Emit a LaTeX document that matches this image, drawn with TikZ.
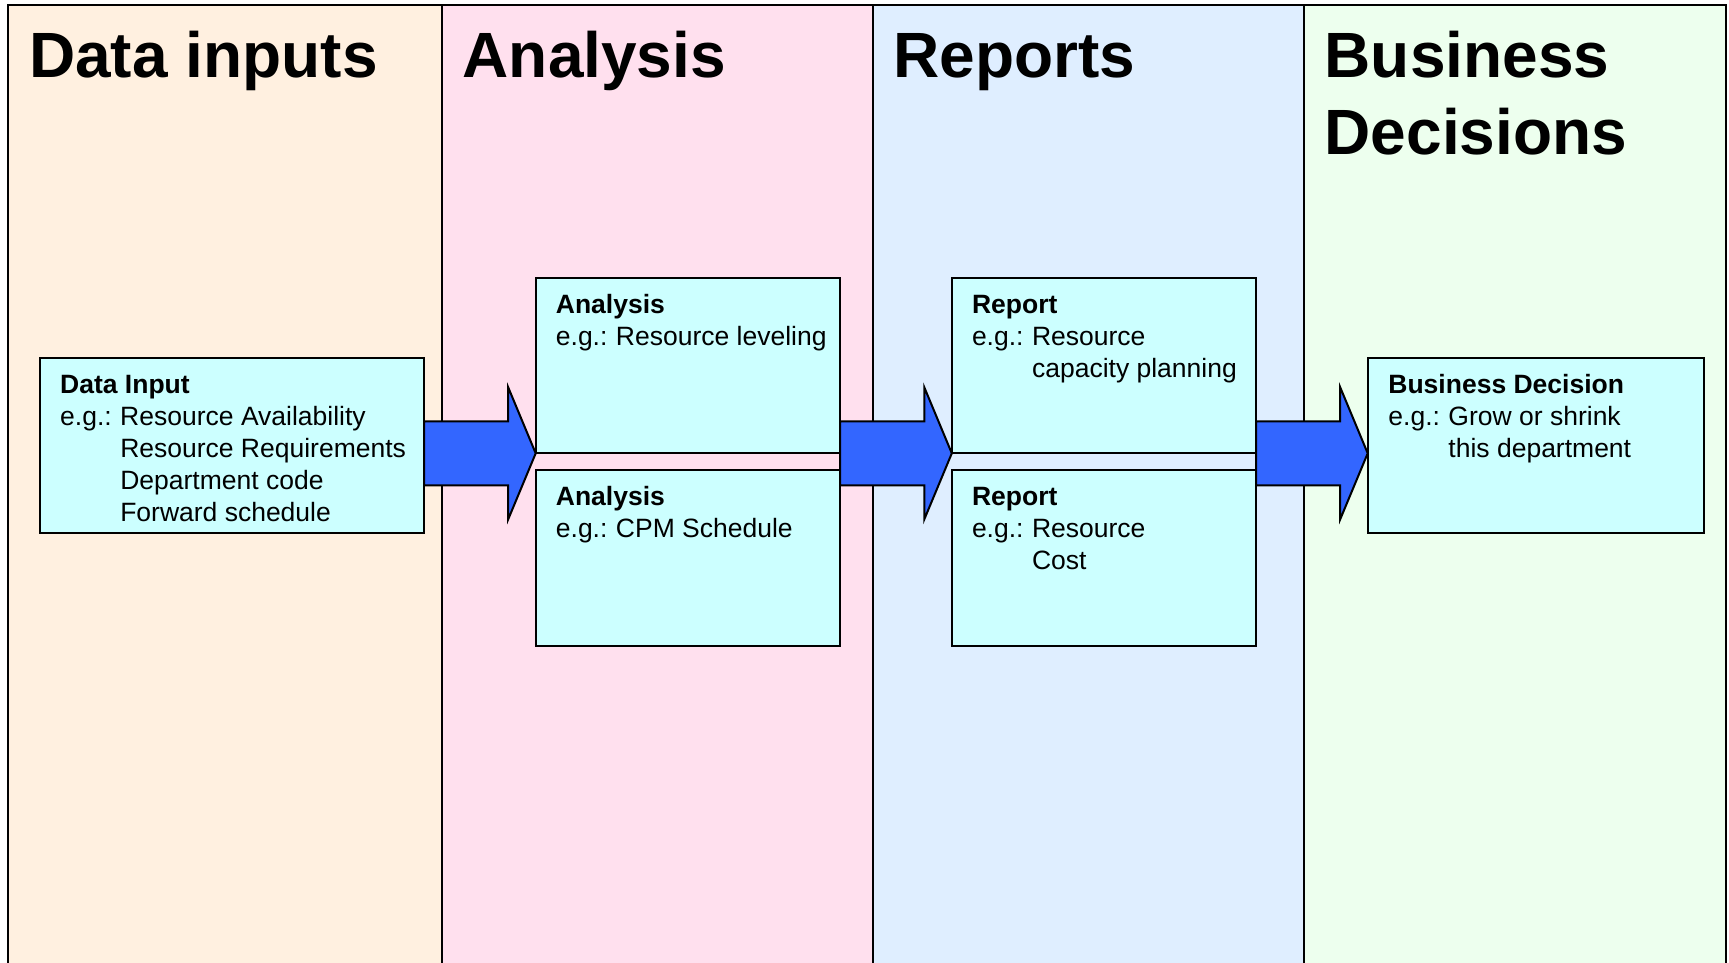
\documentclass[tikz,border=0pt]{standalone}
\usepackage{fontspec}
\setmainfont{Liberation Sans}
\usetikzlibrary{calc}
\definecolor{colA}{HTML}{FFF0E0}
\definecolor{colB}{HTML}{FFE0EE}
\definecolor{colC}{HTML}{DFEEFF}
\definecolor{colD}{HTML}{EDFFEE}
\definecolor{boxcyan}{HTML}{CCFFFF}
\definecolor{arrowblue}{HTML}{3366FF}
\begin{document}
\begin{tikzpicture}[x=1pt,y=-1pt,
  colline/.style={draw=black,line width=2pt},
  coltitle/.style={anchor=base west,inner sep=0pt,font=\fontsize{64}{77}\selectfont\bfseries},
  infobox/.style={draw=black,fill=boxcyan,line width=2pt,rectangle,anchor=north west,inner sep=0pt,outer sep=0pt},
  boxtext/.style={anchor=base west,inner sep=0pt,font=\fontsize{26.5}{32}\selectfont},
  bigarrow/.style={draw=black,fill=arrowblue,line width=2pt,line join=miter}]
\useasboundingbox (0,0) rectangle (1729,963);
\clip (0,0) rectangle (1729,963);
% columns
\fill[colA] (7.5,5) rectangle (441.5,990);
\fill[colB] (441.5,5) rectangle (872.5,990);
\fill[colC] (872.5,5) rectangle (1303.5,990);
\fill[colD] (1303.5,5) rectangle (1726,990);
\draw[colline] (7.5,990) -- (7.5,5) -- (1726,5) -- (1726,990);
\draw[colline] (441.5,5) -- (441.5,990);
\draw[colline] (872.5,5) -- (872.5,990);
\draw[colline] (1303.5,5) -- (1303.5,990);
% titles
\node[coltitle] (h1) at (29,77.5) {Data inputs};
\node[coltitle] (h2) at (462.5,77.5) {Analysis};
\node[coltitle] (h3) at (893,77.5) {Reports};
\node[coltitle] (h4) at (1324.5,77.5) {\begin{tabular}[t]{@{}l@{}}Business\\Decisions\end{tabular}};
% boxes
\node[infobox,minimum width=384pt,minimum height=175pt] (di) at (40,358) {};
\node[infobox,minimum width=304.3pt,minimum height=175pt] (a1) at (535.7,278.3) {};
\node[infobox,minimum width=304.3pt,minimum height=175.7pt] (a2) at (535.7,470) {};
\node[infobox,minimum width=304.3pt,minimum height=175pt] (r1) at (951.8,278.3) {};
\node[infobox,minimum width=304.3pt,minimum height=175.7pt] (r2) at (951.8,470) {};
\node[infobox,minimum width=336.6pt,minimum height=175pt] (bd) at (1367.7,358.3) {};
% box texts
\node[boxtext] (di-t) at ($(di.north west)+(20,35.3)$) {\begin{tabular}[t]{@{}l@{\hspace{8.5pt}}l@{}}\multicolumn{2}{@{}l@{}}{\textbf{Data Input}}\\
e.g.: & Resource Availability\\
 & Resource Requirements\\
 & Department code\\
 & Forward schedule\end{tabular}};
\node[boxtext] (a1-t) at ($(a1.north west)+(20,35)$) {\begin{tabular}[t]{@{}l@{\hspace{8.5pt}}l@{}}\multicolumn{2}{@{}l@{}}{\textbf{Analysis}}\\
e.g.: & Resource leveling\end{tabular}};
\node[boxtext] (a2-t) at ($(a2.north west)+(20,35)$) {\begin{tabular}[t]{@{}l@{\hspace{8.5pt}}l@{}}\multicolumn{2}{@{}l@{}}{\textbf{Analysis}}\\
e.g.: & CPM Schedule\end{tabular}};
\node[boxtext] (r1-t) at ($(r1.north west)+(20,35)$) {\begin{tabular}[t]{@{}l@{\hspace{8.5pt}}l@{}}\multicolumn{2}{@{}l@{}}{\textbf{Report}}\\
e.g.: & Resource\\
 & capacity planning\end{tabular}};
\node[boxtext] (r2-t) at ($(r2.north west)+(20,35)$) {\begin{tabular}[t]{@{}l@{\hspace{8.5pt}}l@{}}\multicolumn{2}{@{}l@{}}{\textbf{Report}}\\
e.g.: & Resource\\
 & Cost\end{tabular}};
\node[boxtext] (bd-t) at ($(bd.north west)+(20.5,35)$) {\begin{tabular}[t]{@{}l@{\hspace{8.5pt}}l@{}}\multicolumn{2}{@{}l@{}}{\textbf{Business Decision}}\\
e.g.: & Grow or shrink\\
 & this department\end{tabular}};
% arrows
\coordinate (t1) at (a1.south west);
\coordinate (s1) at (di.east |- t1);
\coordinate (t2) at (r1.south west);
\coordinate (s2) at (a1.south east);
\coordinate (s3) at (r1.south east);
\coordinate (t3) at (bd.west |- s3);
\foreach \s/\t in {s1/t1,s2/t2,s3/t3}{
  \draw[bigarrow] ([yshift=32pt]\s) -- ([xshift=-27.5pt,yshift=32pt]\t) -- ([xshift=-27.5pt,yshift=66pt]\t) -- (\t) -- ([xshift=-27.5pt,yshift=-66pt]\t) -- ([xshift=-27.5pt,yshift=-32pt]\t) -- ([yshift=-32pt]\s) -- cycle;
}
\end{tikzpicture}
\end{document}
